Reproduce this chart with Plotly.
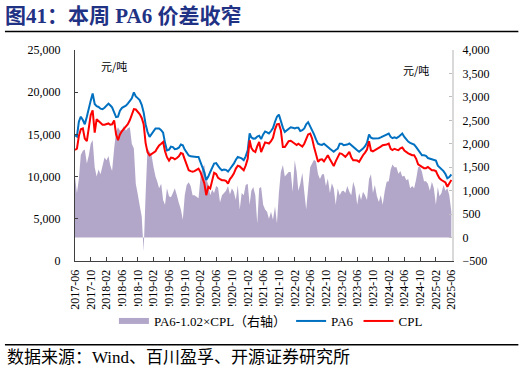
import plotly.graph_objects as go
import datetime as dt

# semi-monthly dates, 2017-06-01 .. 2025-06-01
dates = []
for m in range(97):
    y = 2017 + (5 + m) // 12
    mo = (5 + m) % 12 + 1
    for d in (1, 16):
        dates.append(dt.date(y, mo, d).isoformat())
dates = dates[:193]

pa6 = [
    14900,14750,16500,17100,16700,16200,17100,17900,19000,19850,18600,18350,18250,18050,18000,18150,
    18450,18650,18450,18200,17600,17050,17100,17800,18150,18250,18400,18650,18950,19270,19980,19500,
    19300,19070,18500,17600,16200,15300,14700,15000,15450,15700,15700,15700,15500,15200,14000,13100,
    13200,13550,13500,13250,13300,13420,13800,13700,13200,12850,12500,12400,12350,12330,12330,12330,
    11750,11100,10500,9600,10000,10550,11000,11550,11600,11250,10950,10750,10850,10800,10600,10900,
    11200,11540,12000,12330,12250,12150,11940,12400,13100,15110,14650,14500,14520,14750,14850,14450,
    15000,15350,15250,15110,15400,15750,16500,17100,17350,16500,15800,15300,15450,15600,15850,15800,
    15700,15800,15800,15400,15500,15700,16200,16450,16000,15600,15000,14400,13900,13800,13750,13900,
    13750,13520,13300,13100,12950,13150,13320,13900,13900,13720,13720,13800,13920,13700,13500,13250,
    13130,12950,13100,13320,13600,14000,15000,14600,14520,14520,14500,14550,14650,14750,14900,15000,
    15100,14700,14550,14650,14550,14700,14950,15100,14700,14400,14150,14000,13900,13800,13500,13150,
    12850,12530,12530,12450,12200,12130,12130,12050,11900,11300,11100,10950,10650,10300,9800,9950,10250,
]

cpl = [
    13150,13300,14800,15600,15700,14500,14200,15500,17300,17850,15200,16800,16600,16400,16150,16150,
    16250,16300,16150,16200,16650,15000,14300,15000,15400,15650,15900,16200,16700,17290,18000,17950,
    17700,17400,16950,16200,14000,12900,12530,12650,12800,13000,13350,13700,13900,14100,13000,12300,
    11900,12250,12200,12050,12200,12400,12800,12700,12050,11350,10750,10650,10580,10650,10800,10950,
    10500,9900,9200,7800,8800,8600,9700,10450,10300,9850,9700,9570,9570,9500,9170,9700,
    10000,10360,10950,11300,11200,11000,10750,11300,12100,14300,13400,13050,12920,13600,14100,12900,
    13600,14050,14000,13920,14200,14600,15600,16200,16250,15500,13500,13500,13850,14200,14250,14120,
    13900,13750,13900,13750,13550,13900,14400,15000,15100,14520,13500,12500,11750,12000,12050,11800,
    12100,12530,12050,11600,11250,11800,12330,12750,12700,12450,12350,12600,12920,12300,11940,11940,
    11900,11750,12200,12530,12850,13200,14200,13100,13000,13130,13250,13320,13550,13720,13720,13800,
    13900,13300,13150,13300,13200,13130,13350,13450,13100,12900,12750,12650,12530,12530,12100,11450,
    11250,11150,11000,11000,11150,10950,10750,10750,10650,10150,9800,9600,9450,9300,8800,9250,9600,
]

spread = [
    1300,950,1250,1760,1850,1880,1580,1750,2000,2080,1500,1300,1450,1350,1530,1710,
    1650,1740,1550,1420,1900,2260,2350,2280,2300,2380,2280,2330,2350,2000,1900,1150,
    930,690,450,-300,900,1900,1830,1760,1500,1300,1200,1050,1150,800,700,1050,
    880,860,950,1050,900,740,600,380,900,1120,1180,1100,900,900,870,840,
    1300,1500,1550,1250,1130,900,1020,950,1100,1060,750,900,950,1000,1100,920,
    1050,975,800,1120,600,950,900,1120,1150,700,1000,1080,900,300,1050,1080,
    700,600,550,400,550,380,660,300,950,1400,1550,1300,1350,1400,1400,975,
    1650,1400,1000,1150,1380,975,600,1050,1500,1580,1660,1620,1350,1250,1350,1350,
    1100,1260,950,1160,1050,700,1050,900,990,1000,950,1100,975,900,1190,1050,
    700,950,800,975,900,800,1250,1350,950,1120,880,760,900,700,1000,1190,
    1200,1450,1560,1500,1500,1360,1420,1300,1320,1220,1250,1050,1100,1050,1250,1500,
    1510,1400,1200,1200,1150,1000,1190,1050,700,1080,880,950,1120,1000,1050,900,550,
]

SERIF = "Liberation Serif, Noto Sans CJK SC"
CJK = "Noto Sans CJK SC"

fig = go.Figure()
fig.add_trace(go.Scatter(x=dates, y=spread, yaxis="y", fill="tozeroy", mode="none",
                         fillcolor="#B3A7C9", name="PA6-1.02×CPL（右轴）"))
fig.add_trace(go.Scatter(x=dates, y=pa6, yaxis="y2", mode="lines",
                         line=dict(color="#0070C0", width=2), name="PA6"))
fig.add_trace(go.Scatter(x=dates, y=cpl, yaxis="y2", mode="lines",
                         line=dict(color="#FF0000", width=2), name="CPL"))

fig.update_layout(
    width=521, height=374,
    margin=dict(l=75, r=69, t=50, b=113),
    paper_bgcolor="white", plot_bgcolor="white",
    showlegend=True,
    title=dict(text="<b>图41：本周 PA6 价差收窄</b>", font=dict(family=SERIF, size=21, color="#1F3284"),
               x=5/521, xref="container", xanchor="left", y=1-16/374, yref="container", yanchor="middle",
               automargin=False),
    legend=dict(orientation="h", x=0.52, xref="container", xanchor="center",
                y=1-321/374, yref="container", yanchor="middle",
                font=dict(family=SERIF, size=13, color="#000"), itemwidth=30, tracegroupgap=0),
    xaxis=dict(type="date", range=["2017-06-01", "2025-06-06"], tick0="2017-06-01", dtick="M4",
               tickformat="%Y-%m", tickangle=-90, showgrid=False, zeroline=False, automargin=False,
               showline=True, linecolor="#404040", linewidth=1,
               ticks="inside", ticklen=4, tickcolor="#404040",
               tickfont=dict(family="Liberation Serif", size=12, color="#000"), ticklabelstandoff=3),
    yaxis=dict(side="right", range=[-500, 4000], dtick=500, tickformat=",", automargin=False,
               showgrid=False, zeroline=False, showline=True, linecolor="#D9D9D9", linewidth=2,
               ticks="inside", ticklen=3, tickcolor="#BFBFBF",
               tickfont=dict(family="Liberation Serif", size=12, color="#000"), ticklabelstandoff=6),
    yaxis2=dict(side="left", overlaying="y", range=[0, 25000], dtick=5000, tickformat=",", automargin=False,
                showgrid=False, zeroline=False, showline=True, linecolor="#404040", linewidth=1,
                ticks="inside", ticklen=3, tickcolor="#404040",
                tickfont=dict(family="Liberation Serif", size=12, color="#000"), ticklabelstandoff=11),
    hovermode=False,
)

PW = 376.7
PH = 210.5
def px(x):
    return (x - 75) / PW
def py(y):
    return (260.5 - y) / PH

fig.add_annotation(text="元/吨", x=px(98.5), y=py(56), xref="paper", yref="paper",
                   showarrow=False, font=dict(family=CJK, size=11, color="#000"))
fig.add_annotation(text="元/吨", x=px(431), y=py(60), xref="paper", yref="paper",
                   showarrow=False, font=dict(family=CJK, size=11, color="#000"))
fig.add_annotation(text="数据来源：Wind、百川盈孚、开源证券研究所", x=px(5), y=py(357),
                   xref="paper", yref="paper", xanchor="left", yanchor="middle",
                   showarrow=False, font=dict(family=SERIF, size=17, color="#000"))

fig.add_shape(type="line", xref="paper", yref="paper", x0=px(5), x1=px(518), y0=py(31.5), y1=py(31.5),
              line=dict(color="#000", width=1.5))
fig.add_shape(type="line", xref="paper", yref="paper", x0=px(5), x1=px(518), y0=py(344), y1=py(344),
              line=dict(color="#000", width=1.5))

fig.write_html("out.html", config={"displayModeBar": False},
               post_script="document.body.style.margin='0';document.body.style.overflow='hidden';")
